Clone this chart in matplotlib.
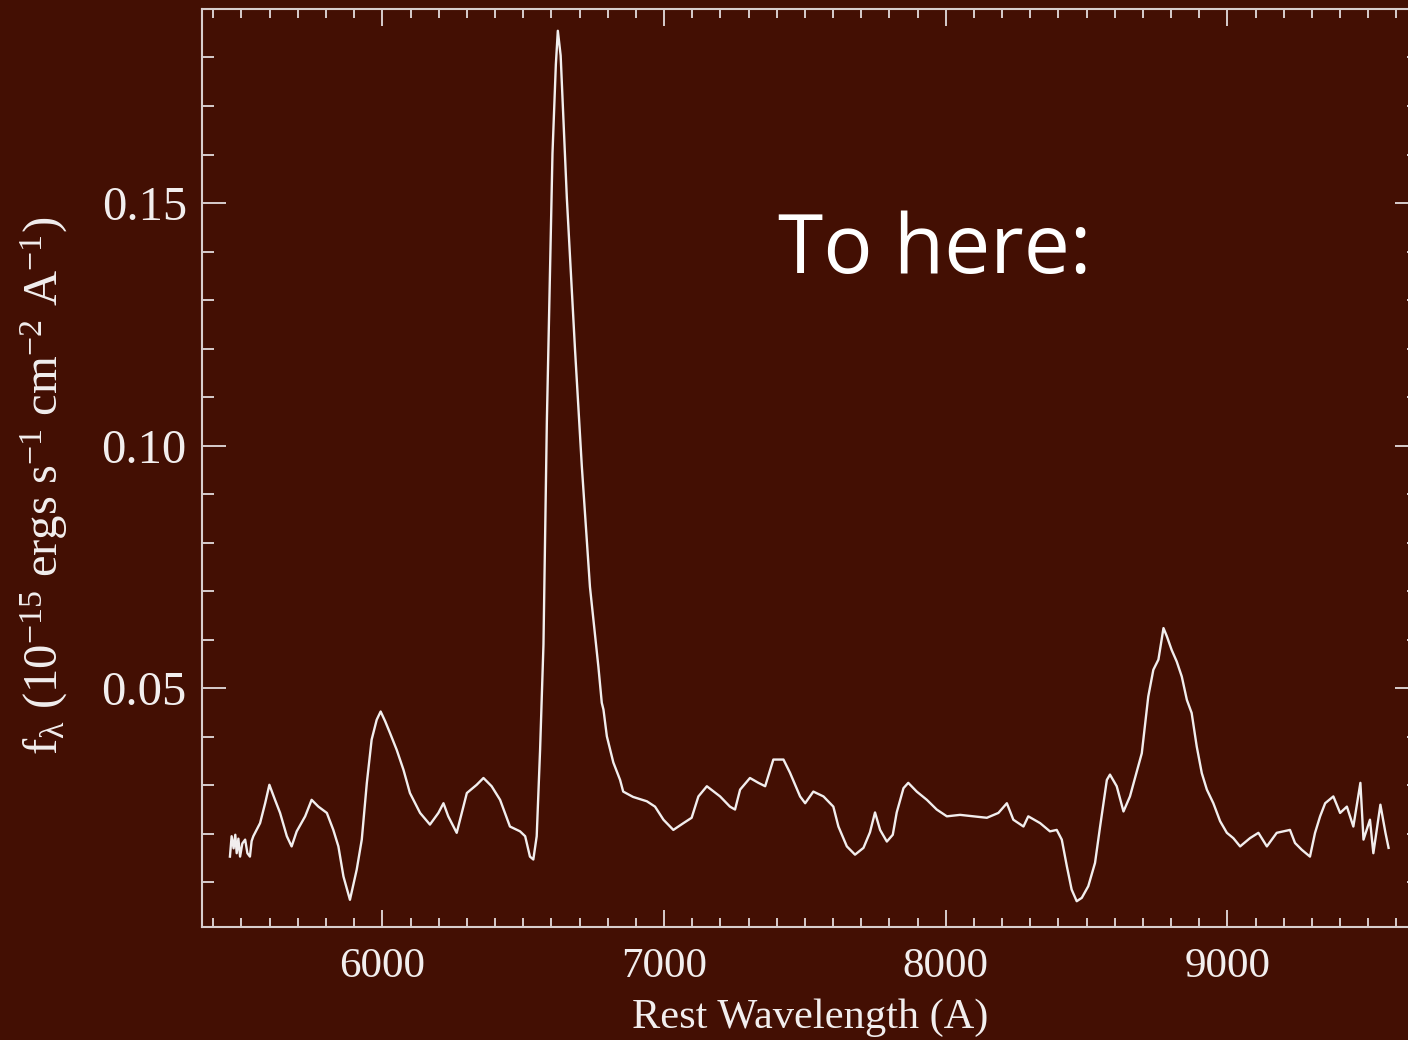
import numpy as np
import matplotlib
matplotlib.use("Agg")
import matplotlib.pyplot as plt
from matplotlib.ticker import MultipleLocator, FormatStrFormatter

# ---------------------------------------------------------------
# spectrum (rest wavelength, flux)
# ---------------------------------------------------------------
wave = [
    5459, 5465, 5472, 5478, 5483, 5489, 5495, 5503, 5513, 5521, 5530, 5536,
    5542, 5566, 5584, 5599, 5619, 5637, 5661, 5678, 5696, 5726, 5749, 5773,
    5803, 5826, 5844, 5862, 5885, 5909, 5927, 5945, 5962, 5980, 5994, 6010,
    6027, 6051, 6075, 6098, 6134, 6169, 6199, 6217, 6234, 6264, 6300, 6335,
    6359, 6388, 6418, 6453, 6489, 6507, 6524, 6536, 6548, 6560, 6572, 6584,
    6604, 6616, 6623, 6633, 6655, 6684, 6699, 6708, 6737, 6767, 6779, 6785,
    6797, 6820, 6844, 6855, 6890, 6939, 6968, 6998, 7033, 7069, 7098, 7122,
    7152, 7199, 7234, 7252, 7270, 7305, 7335, 7359, 7388, 7424, 7447, 7483,
    7501, 7530, 7566, 7601, 7619, 7649, 7678, 7708, 7731, 7749, 7767, 7791,
    7812, 7826, 7850, 7867, 7897, 7933, 7968, 8004, 8051, 8098, 8146, 8187,
    8217, 8240, 8276, 8293, 8335, 8370, 8394, 8412, 8430, 8447, 8465, 8483,
    8506, 8530, 8548, 8572, 8583, 8607, 8631, 8654, 8696, 8719, 8737, 8755,
    8773, 8785, 8802, 8820, 8838, 8856, 8873, 8891, 8909, 8927, 8950, 8974,
    8998, 9021, 9045, 9080, 9110, 9140, 9175, 9222, 9240, 9264, 9293, 9311,
    9329, 9347, 9376, 9400, 9424, 9447, 9472, 9483, 9506, 9518, 9543, 9561,
    9572,
]
flux = [
    0.0153, 0.0195, 0.0170, 0.0198, 0.0160, 0.0190, 0.0153, 0.0180, 0.0188, 0.0160, 0.0153, 0.0185,
    0.0195, 0.0222, 0.0263, 0.0301, 0.0270, 0.0243, 0.0195, 0.0174, 0.0205, 0.0236, 0.0270, 0.0256,
    0.0243, 0.0208, 0.0174, 0.0112, 0.0064, 0.0126, 0.0188, 0.0305, 0.0394, 0.0435, 0.0452, 0.0432,
    0.0408, 0.0373, 0.0332, 0.0284, 0.0243, 0.0219, 0.0243, 0.0263, 0.0236, 0.0202, 0.0284, 0.0301,
    0.0315, 0.0298, 0.0270, 0.0215, 0.0205, 0.0195, 0.0153, 0.0147, 0.0195, 0.0373, 0.0590, 0.1049,
    0.1602, 0.1786, 0.1855, 0.1804, 0.1510, 0.1198, 0.1049, 0.0959, 0.0709, 0.0544, 0.0470, 0.0456,
    0.0401, 0.0347, 0.0311, 0.0287, 0.0276, 0.0267, 0.0256, 0.0229, 0.0208, 0.0222, 0.0233, 0.0277,
    0.0298, 0.0277, 0.0256, 0.0250, 0.0291, 0.0315, 0.0305, 0.0298, 0.0353, 0.0353, 0.0326, 0.0277,
    0.0263, 0.0287, 0.0277, 0.0256, 0.0215, 0.0174, 0.0157, 0.0171, 0.0203, 0.0244, 0.0208, 0.0184,
    0.0198, 0.0244, 0.0294, 0.0305, 0.0287, 0.0270, 0.0250, 0.0236, 0.0239, 0.0236, 0.0233, 0.0243,
    0.0263, 0.0229, 0.0215, 0.0236, 0.0222, 0.0205, 0.0208, 0.0188, 0.0133, 0.0085, 0.0061, 0.0068,
    0.0092, 0.0140, 0.0215, 0.0311, 0.0322, 0.0298, 0.0246, 0.0277, 0.0366, 0.0483, 0.0538, 0.0559,
    0.0624, 0.0607, 0.0579, 0.0555, 0.0524, 0.0476, 0.0449, 0.0380, 0.0325, 0.0291, 0.0263, 0.0226,
    0.0202, 0.0191, 0.0174, 0.0191, 0.0202, 0.0174, 0.0202, 0.0208, 0.0181, 0.0167, 0.0153, 0.0202,
    0.0236, 0.0263, 0.0277, 0.0243, 0.0256, 0.0215, 0.0305, 0.0188, 0.0229, 0.0160, 0.0260, 0.0202,
    0.0171,
]

X_TICKS = [6000, 7000, 8000, 9000]
Y_TICKS = [0.05, 0.10, 0.15]

BG = "#430f03"
FG = "#f2eeee"
AXC = "#d8cdcd"

plt.rcParams["mathtext.fontset"] = "custom"
plt.rcParams["mathtext.rm"] = "Liberation Serif"
plt.rcParams["mathtext.it"] = "Liberation Serif:italic"
plt.rcParams["mathtext.default"] = "regular"

fig = plt.figure(figsize=(14.08, 10.40), dpi=100)
fig.patch.set_facecolor(BG)

# axes run slightly past the right edge of the picture, as in the reference
ax = fig.add_axes([0.1435, 0.1087, 0.8643, 0.8827])
ax.set_facecolor(BG)

ax.plot(wave, flux, color=FG, linewidth=1.7)

ax.set_xlim(5360, 9680)
ax.set_ylim(0.0008, 0.19)

ax.set_xticks(X_TICKS)
ax.set_yticks(Y_TICKS)
ax.xaxis.set_minor_locator(MultipleLocator(100))
ax.yaxis.set_minor_locator(MultipleLocator(0.01))
ax.yaxis.set_major_formatter(FormatStrFormatter("%.2f"))

for sp in ax.spines.values():
    sp.set_color(AXC)
    sp.set_linewidth(1.5)

ax.tick_params(axis="both", which="both", direction="in", top=True, right=True,
               color=AXC, width=1.4)
ax.tick_params(axis="x", which="major", length=12.5, pad=15)
ax.tick_params(axis="x", which="minor", length=6.5)
ax.tick_params(axis="y", which="major", length=17, pad=11)
ax.tick_params(axis="y", which="minor", length=8.5)

for lab in ax.get_xticklabels():
    lab.set_fontfamily("Liberation Serif")
    lab.set_fontsize(31)
    lab.set_color(FG)
for lab in ax.get_yticklabels():
    lab.set_fontfamily("Liberation Serif")
    lab.set_fontsize(35)
    lab.set_color(FG)

ax.set_xlabel("Rest Wavelength (A)", fontsize=30.5, color=FG,
              family="Liberation Serif", labelpad=9)

fig.text(44 / 1408, 1 - 486 / 1040,
         r"f$_\lambda$ (10$^{-15}$ ergs s$^{-1}$ cm$^{-2}$ A$^{-1}$)",
         rotation=90, ha="center", va="center", fontsize=35, color=FG,
         family="Liberation Serif")

fig.text(778 / 1408, 1 - 273 / 1040, "To here:", fontsize=59, color="white",
         family="Open Sans", ha="left", va="baseline")

fig.savefig("out.png", dpi=100, facecolor=fig.get_facecolor())
